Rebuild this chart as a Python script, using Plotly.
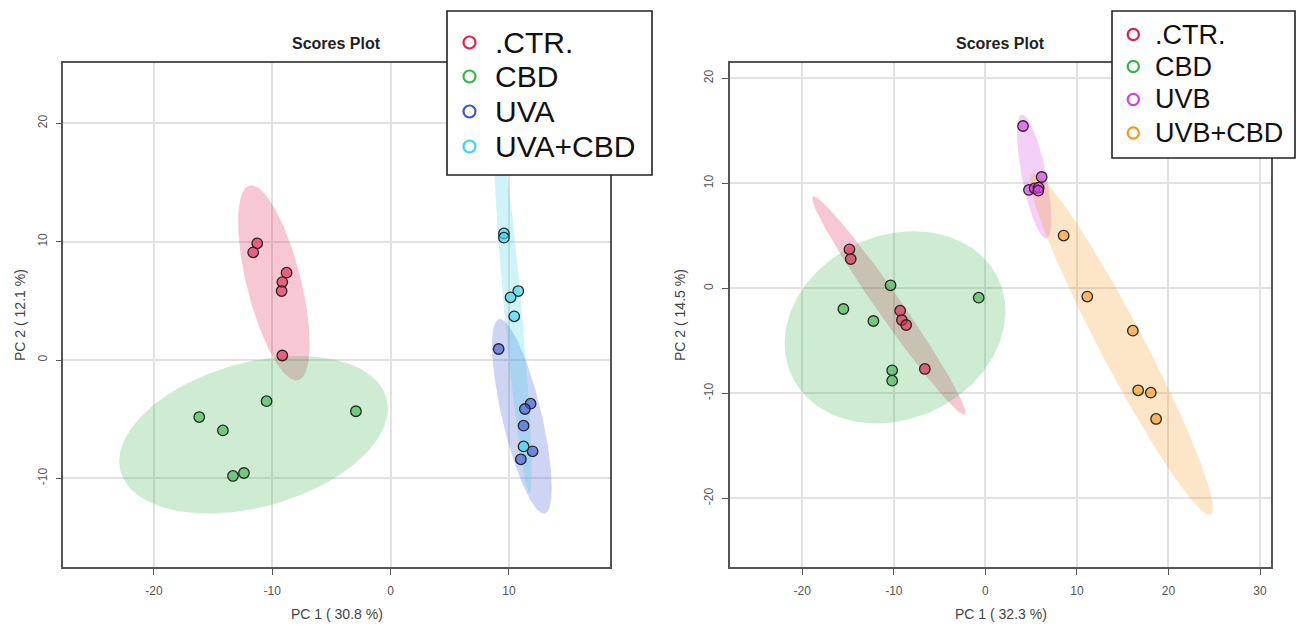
import numpy as np
import plotly.graph_objects as go

# ---------------- data ----------------
groups_a = [".CTR.", "CBD", "UVA", "UVA+CBD"]
ctr_a_x = [-11.27, -11.61, -8.79, -9.15, -9.21, -9.15]
ctr_a_y = [9.86, 9.10, 7.38, 6.59, 5.83, 0.38]
cbd_a_x = [-16.17, -14.17, -10.48, -2.93, -12.39, -13.32]
cbd_a_y = [-4.82, -5.95, -3.48, -4.33, -9.55, -9.80]
uva_x = [9.13, 11.83, 11.35, 11.24, 12.00, 11.01]
uva_y = [0.93, -3.69, -4.14, -5.55, -7.72, -8.39]
uvacbd_x = [9.58, 9.58, 10.79, 10.14, 10.45, 11.24]
uvacbd_y = [10.70, 10.34, 5.83, 5.30, 3.69, -7.30]

groups_b = [".CTR.", "CBD", "UVB", "UVB+CBD"]
ctr_b_x = [-14.85, -14.71, -9.31, -9.12, -8.65, -6.61]
ctr_b_y = [3.71, 2.79, -2.13, -3.02, -3.49, -7.68]
cbd_b_x = [-10.36, -0.73, -15.51, -12.23, -10.18, -10.18]
cbd_b_y = [0.29, -0.89, -1.97, -3.11, -7.81, -8.79]
uvb_x = [4.11, 6.15, 4.76, 5.38, 5.82, 5.78]
uvb_y = [15.46, 10.60, 9.37, 9.52, 9.59, 9.30]
uvbcbd_x = [8.55, 11.13, 16.11, 16.69, 18.07, 18.65]
uvbcbd_y = [5.02, -0.79, -4.03, -9.71, -9.94, -12.44]

title_text = "Scores Plot"
xtitle_a = "PC 1 ( 30.8 %)"
ytitle_a = "PC 2 ( 12.1 %)"
xtitle_b = "PC 1 ( 32.3 %)"
ytitle_b = "PC 2 ( 14.5 %)"

xticks_a = [-20, -10, 0, 10]
yticks_a = [-10, 0, 10, 20]
xticks_b = [-20, -10, 0, 10, 20, 30]
yticks_b = [-20, -10, 0, 10, 20]

# ---------------- styling ----------------
W, H = 1303, 626
FONT = "Liberation Sans, Arial, sans-serif"
colors_a = [(224, 32, 78), (56, 179, 74), (61, 85, 208), (60, 212, 236)]
colors_b = [(224, 32, 78), (56, 179, 74), (212, 63, 224), (243, 154, 30)]


def rgba(c, a):
    return f"rgba({c[0]},{c[1]},{c[2]},{a})"


def hexc(c):
    return "#%02x%02x%02x" % c


def ellipse(xs, ys, level=0.95, n=240):
    x = np.asarray(xs, float)
    y = np.asarray(ys, float)
    cov = np.cov(x, y)
    L = np.linalg.cholesky(cov)
    t = np.sqrt(-2.0 * np.log(1.0 - level))  # chi-square quantile, 2 df
    th = np.linspace(0, 2 * np.pi, n)
    pts = t * (L @ np.vstack([np.cos(th), np.sin(th)]))
    return x.mean() + pts[0], y.mean() + pts[1]


fig = go.Figure()

panels = [
    ("x", "y", [(ctr_a_x, ctr_a_y), (cbd_a_x, cbd_a_y), (uva_x, uva_y), (uvacbd_x, uvacbd_y)], colors_a),
    ("x2", "y2", [(ctr_b_x, ctr_b_y), (cbd_b_x, cbd_b_y), (uvb_x, uvb_y), (uvbcbd_x, uvbcbd_y)], colors_b),
]

for xa, ya, data, cols in panels:
    for (gx, gy), c in zip(data, cols):
        ex, ey = ellipse(gx, gy)
        fig.add_trace(go.Scatter(x=ex, y=ey, xaxis=xa, yaxis=ya, mode="lines",
                                 fill="toself", fillcolor=rgba(c, 0.25),
                                 line=dict(width=0), hoverinfo="skip", showlegend=False))
    for (gx, gy), c in zip(data, cols):
        fig.add_trace(go.Scatter(x=gx, y=gy, xaxis=xa, yaxis=ya, mode="markers",
                                 marker=dict(size=10.5, color=rgba(c, 0.62),
                                             line=dict(color="#262626", width=1.3)),
                                 showlegend=False))


def px(x):
    return x / W


def py(y):
    return 1 - y / H


axis_common = dict(showline=True, linecolor="#555555", linewidth=1.6, mirror=True,
                   ticks="outside", ticklen=6, tickwidth=1.4, tickcolor="#555555",
                   showgrid=True, gridcolor="#e2e2e2", gridwidth=1.5, zeroline=False,
                   tickfont=dict(family=FONT, size=12, color="#555555"))

fig.update_layout(
    width=W, height=H, margin=dict(l=0, r=0, t=0, b=0),
    paper_bgcolor="white", plot_bgcolor="white", showlegend=False,
    xaxis=dict(domain=[px(63.4), px(609.5)], range=[-27.65, 18.5], anchor="y",
               tickvals=xticks_a, ticktext=[str(v) for v in xticks_a],
               ticklabelstandoff=6, **axis_common),
    yaxis=dict(domain=[py(566.7), py(63.3)], range=[-17.47, 25.08], anchor="x",
               tickvals=yticks_a, ticktext=[str(v) for v in yticks_a], tickangle=-90,
               ticklabelstandoff=4, **axis_common),
    xaxis2=dict(domain=[px(729.5), px(1271)], range=[-27.95, 31.2], anchor="y2",
                tickvals=xticks_b, ticktext=[str(v) for v in xticks_b],
                ticklabelstandoff=6, **axis_common),
    yaxis2=dict(domain=[py(566.7), py(63.3)], range=[-26.51, 21.43], anchor="x2",
                tickvals=yticks_b, ticktext=[str(v) for v in yticks_b], tickangle=-90,
                ticklabelstandoff=4, **axis_common),
)

ann = []
shapes = []
# titles and axis titles
for cx, xt, yx, yt in [(336.5, xtitle_a, 20, ytitle_a), (1000.5, xtitle_b, 680, ytitle_b)]:
    ann.append(dict(x=px(cx), y=py(43), xref="paper", yref="paper", showarrow=False,
                    text="<b>" + title_text + "</b>", font=dict(family=FONT, size=16, color="#222222"),
                    xanchor="center", yanchor="middle"))
    ann.append(dict(x=px(cx), y=py(614), xref="paper", yref="paper", showarrow=False,
                    text=xt, font=dict(family=FONT, size=14, color="#444444"),
                    xanchor="center", yanchor="middle"))
    ann.append(dict(x=px(yx), y=py(315), xref="paper", yref="paper", showarrow=False,
                    text=yt, textangle=-90, font=dict(family=FONT, size=14, color="#444444"),
                    xanchor="center", yanchor="middle"))

# legends (drawn manually so size and spacing match)
legends = [
    dict(box=(447, 11, 652, 175), cx=469.5, tx=493, rows=[42.5, 76.5, 111.5, 146.5],
         fs=30, r=6, labels=groups_a, cols=colors_a),
    dict(box=(1112, 11, 1295, 158), cx=1133.3, tx=1153, rows=[34.5, 66.5, 99.5, 133.0],
         fs=27, r=5.6, labels=groups_b, cols=colors_b),
]
for lg in legends:
    x0, y0, x1, y1 = lg["box"]
    shapes.append(dict(type="rect", xref="paper", yref="paper", x0=px(x0), x1=px(x1),
                       y0=py(y1), y1=py(y0), fillcolor="white",
                       line=dict(color="#222222", width=1.6), layer="above"))
    for ry, lab, c in zip(lg["rows"], lg["labels"], lg["cols"]):
        r = lg["r"]
        shapes.append(dict(type="circle", xref="paper", yref="paper",
                           x0=px(lg["cx"] - r), x1=px(lg["cx"] + r),
                           y0=py(ry + r), y1=py(ry - r),
                           line=dict(color=hexc(c), width=2.2), fillcolor="rgba(0,0,0,0)",
                           layer="above"))
        ann.append(dict(x=px(lg["tx"]), y=py(ry), xref="paper", yref="paper", showarrow=False,
                        text=lab, font=dict(family=FONT, size=lg["fs"], color="#111111"),
                        xanchor="left", yanchor="middle"))

fig.update_layout(annotations=ann, shapes=shapes)
fig.write_html("out.html", config={"displayModeBar": False},
               post_script="document.body.style.margin='0';document.body.style.overflow='hidden';")
